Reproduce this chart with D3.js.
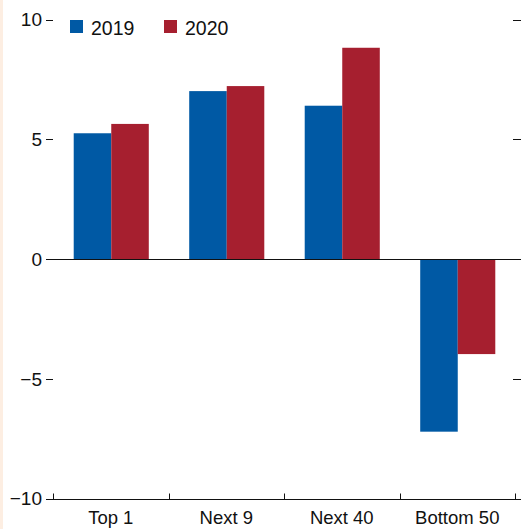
<!DOCTYPE html>
<html><head><meta charset="utf-8">
<script src="https://cdn.jsdelivr.net/npm/d3@7"></script>
<style>
html,body{margin:0;padding:0;background:#fff;}
svg{display:block;}
text{font-family:"Liberation Sans Narrow","Arial Narrow","Liberation Sans",Arial,sans-serif;fill:#111;}
</style></head>
<body>
<svg id="c" width="521" height="529"></svg>
<script>
const categories = ["Top 1", "Next 9", "Next 40", "Bottom 50"];
const seriesNames = ["2019", "2020"];
const values2019 = [5.25, 7.01, 6.40, -7.21];
const values2020 = [5.64, 7.22, 8.82, -3.97];
const yTicks = [-10, -5, 0, 5, 10];
const yTickLabels = ["\u221210", "\u22125", "0", "5", "10"];
const colors = ["#0059a4", "#a61f2f"];

const svg = d3.select("#c");
const W = 521, H = 529;
const axL = 46, axR = 521, plotL = 53, plotR = 515;
const plotTop = 19.5, plotBottom = 498.5;

svg.append("rect").attr("x",0).attr("y",0).attr("width",3).attr("height",H).attr("fill","#fdeee2");

const y = d3.scaleLinear().domain([-10,10]).range([plotBottom, plotTop]);
const x = d3.scaleBand().domain(categories).range([plotL, plotR]).paddingInner(0.35).paddingOuter(0.175);
const x0 = d3.scaleBand().domain(categories).range([plotL, plotR]);
const xs = d3.scaleBand().domain(seriesNames).range([0, x.bandwidth()]);

const series = [values2019, values2020];
const data = [];
categories.forEach((c,i)=>seriesNames.forEach((s,j)=>data.push({c, s, v: series[j][i], j})));

svg.append("g").selectAll("rect").data(data).join("rect")
  .attr("x", d => x(d.c) + xs(d.s) + 0.5)
  .attr("width", xs.bandwidth())
  .attr("y", d => y(Math.max(0,d.v)))
  .attr("height", d => Math.abs(y(d.v) - y(0)))
  .attr("fill", d => colors[d.j]);

// zero line
svg.append("line").attr("x1",axL).attr("x2",axR).attr("y1",Math.round(y(0))+0.5).attr("y2",Math.round(y(0))+0.5)
  .attr("stroke","#111").attr("stroke-width",1);

// left y axis ticks (labels + short marks)
const yl = svg.append("g");
yTicks.forEach((t,i)=>{
  if (t !== 0 && t !== -10) {
    yl.append("line").attr("x1",46).attr("x2",53).attr("y1",Math.round(y(t))+0.5).attr("y2",Math.round(y(t))+0.5).attr("stroke","#111");
  }
  yl.append("text").attr("x",42).attr("y",y(t)).attr("dy","0.36em").attr("text-anchor","end")
    .attr("font-size",19).text(yTickLabels[i]);
});
// right ticks
yTicks.forEach(t=>{
  if (t === 0 || t === -10) return;
  svg.append("line").attr("x1",513).attr("x2",521).attr("y1",Math.round(y(t))+0.5).attr("y2",Math.round(y(t))+0.5).attr("stroke","#111");
});

// bottom axis
const xAxis = d3.axisBottom(x0).tickSize(0).tickPadding(11);
const gx = svg.append("g").attr("transform",`translate(0,${Math.round(y(-10))+0.5})`).call(xAxis);
gx.select(".domain").remove();
gx.selectAll("text").attr("font-size",18.5).attr("fill","#111").style("font-family",null);
gx.append("line").attr("x1",axL).attr("x2",axR).attr("y1",0).attr("y2",0).attr("stroke","#111");
const edges = [plotL].concat(categories.map(c => x0(c) + x0.bandwidth()));
gx.selectAll("line.tk").data(edges).join("line").attr("class","tk")
  .attr("x1",d=>Math.round(d)+0.5).attr("x2",d=>Math.round(d)+0.5).attr("y1",0).attr("y2",-6).attr("stroke","#111");

// legend
const lg = svg.append("g");
const legendX = [70, 164];
seriesNames.forEach((s,i)=>{
  lg.append("rect").attr("x",legendX[i]).attr("y",20).attr("width",13).attr("height",13).attr("fill",colors[i]);
  lg.append("text").attr("x",legendX[i]+21).attr("y",34.5).attr("font-size",19.5).text(s);
});
</script>
</body></html>
